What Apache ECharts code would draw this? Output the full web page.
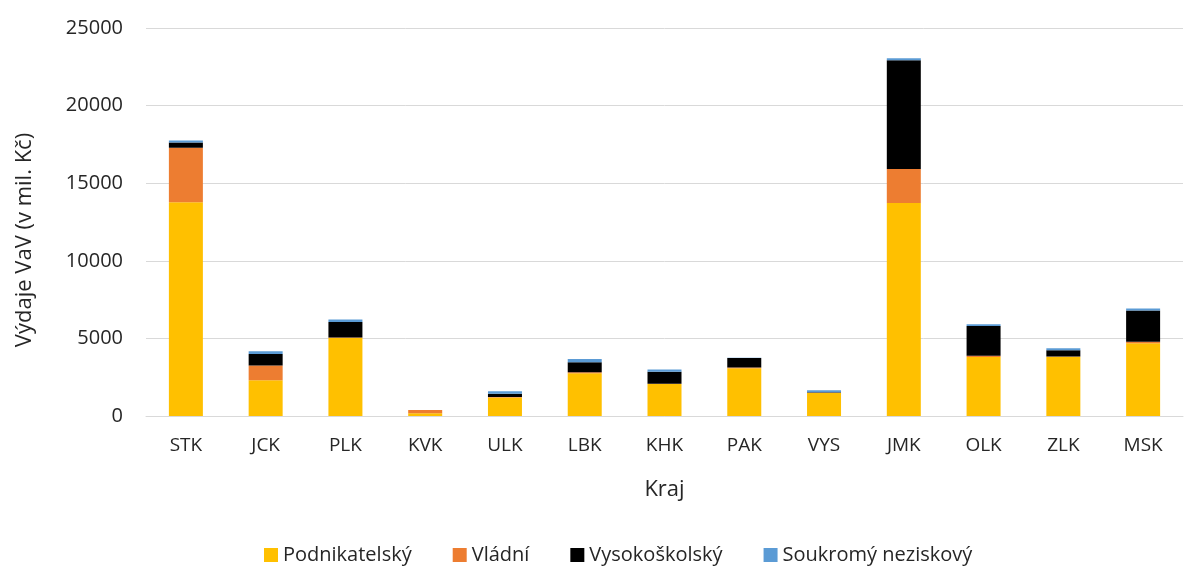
<!DOCTYPE html>
<html>
<head>
<meta charset="utf-8">
<script src="https://cdn.jsdelivr.net/npm/echarts@6/dist/echarts.min.js"></script>
<style>
  html, body { margin: 0; padding: 0; background: #fff; }
  #chart { width: 1197px; height: 567px; }
</style>
</head>
<body>
<div id="chart"></div>
<script>
var categories = ['STK', 'JCK', 'PLK', 'KVK', 'ULK', 'LBK', 'KHK', 'PAK', 'VYS', 'JMK', 'OLK', 'ZLK', 'MSK'];
var podnikatelsky = [13770, 2300, 5020, 180, 1200, 2750, 2060, 3070, 1490, 13720, 3800, 3820, 4680];
var vladni = [3520, 950, 30, 200, 20, 70, 20, 60, 10, 2200, 80, 20, 100];
var vysokoskolsky = [330, 750, 1000, 0, 220, 640, 770, 610, 30, 7000, 1920, 390, 2020];
var soukromy = [130, 170, 170, 0, 150, 210, 150, 20, 130, 130, 110, 130, 130];
var yTicks = [0, 5000, 10000, 15000, 20000, 25000];

var font = 'Open Sans';
var txt = '#262626';

var chart = echarts.init(document.getElementById('chart'));
function bar(name, data, color) {
  return {
    name: name,
    type: 'bar',
    stack: 'total',
    barWidth: 34,
    itemStyle: { color: color },
    data: data
  };
}
var option = {
  animation: false,
  textStyle: { fontFamily: font },
  grid: { left: 146, right: 14, top: 28, bottom: 151 },
  legend: {
    bottom: -3,
    left: 259,
    itemWidth: 14,
    itemHeight: 14,
    itemGap: 41,
    icon: 'rect',
    textStyle: { fontFamily: font, fontSize: 20, color: txt },
    data: ['Podnikatelský', 'Vládní', 'Vysokoškolský', 'Soukromý neziskový']
  },
  xAxis: {
    type: 'category',
    data: categories,
    name: 'Kraj',
    nameLocation: 'middle',
    nameGap: 63,
    nameTextStyle: { fontFamily: font, fontSize: 22, color: txt },
    axisTick: { show: false },
    axisLine: { show: true, lineStyle: { color: '#d9d9d9', width: 1 } },
    axisLabel: { fontFamily: font, fontSize: 19, color: txt, margin: 20 }
  },
  yAxis: {
    type: 'value',
    min: yTicks[0],
    max: yTicks[yTicks.length - 1],
    interval: 5000,
    name: 'Výdaje VaV (v mil. Kč)',
    nameLocation: 'middle',
    nameGap: 110,
    nameTextStyle: { fontFamily: font, fontSize: 22, color: txt, padding: [0, 36, 0, 0] },
    axisLine: { show: false },
    axisTick: { show: false },
    splitLine: { lineStyle: { color: '#d9d9d9', width: 1 } },
    axisLabel: { fontFamily: font, fontSize: 20, color: txt, margin: 23, formatter: function (v) { return String(v); } }
  },
  series: [
    bar('Podnikatelský', podnikatelsky, '#FFC000'),
    bar('Vládní', vladni, '#ED7D31'),
    bar('Vysokoškolský', vysokoskolsky, '#000000'),
    bar('Soukromý neziskový', soukromy, '#5B9BD5')
  ]
};
chart.setOption(option);
</script>
</body>
</html>
